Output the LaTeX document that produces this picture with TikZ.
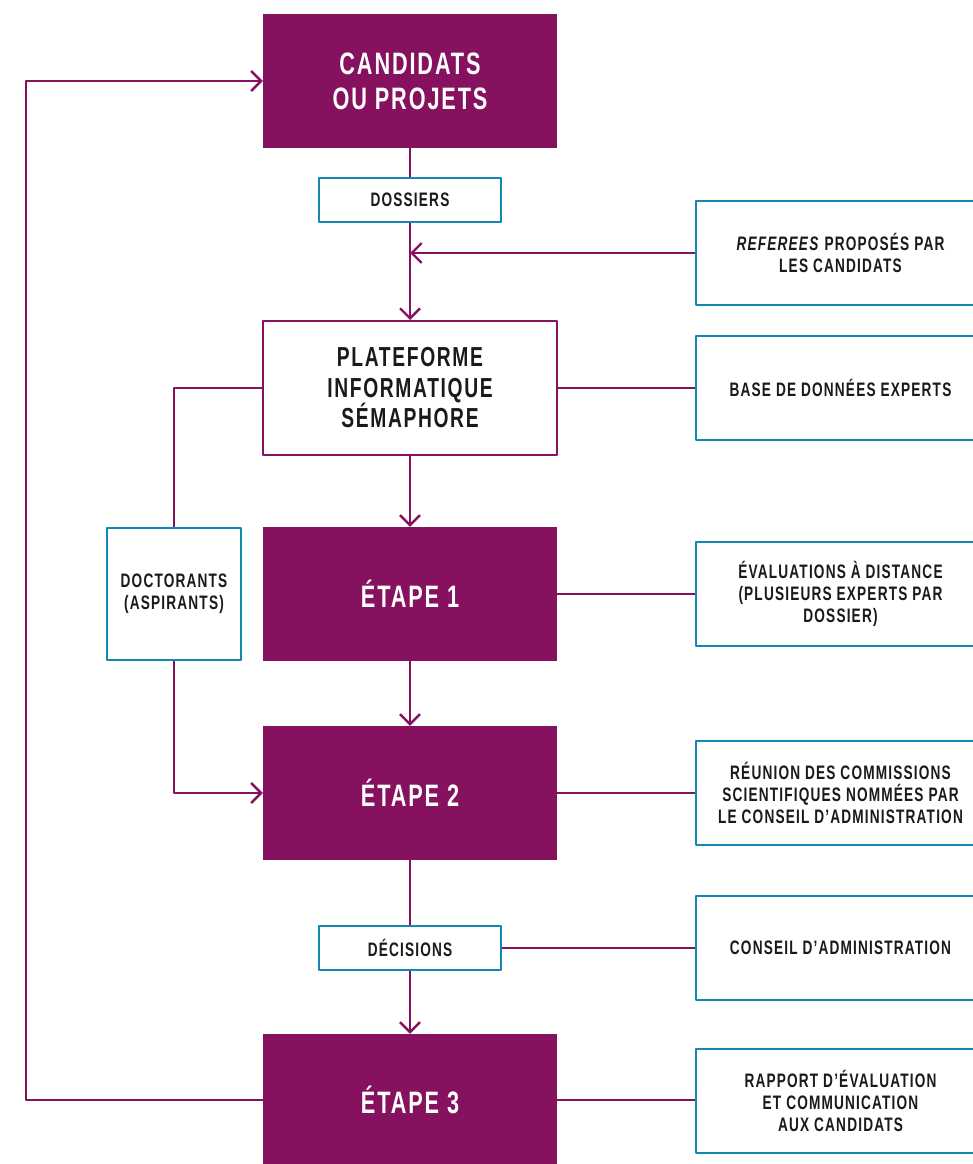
\documentclass[tikz,border=0pt]{standalone}
\usepackage{fontspec}
\setmainfont{Liberation Sans}[FakeStretch=0.7,LetterSpace=6]
\usetikzlibrary{arrows.meta,positioning}
\definecolor{prune}{RGB}{134,17,94}
\definecolor{bleu}{RGB}{20,136,180}
\definecolor{encre}{RGB}{26,26,26}

\begin{document}
\begin{tikzpicture}[x=1pt, y=-1pt, line join=round,
    etape/.style={fill=prune, text=white, minimum width=294pt, minimum height=134pt,
      inner sep=0pt, align=center, font=\fontsize{31}{35}\selectfont\bfseries},
    plateforme/.style={etape, fill=white, draw=prune, line width=2pt, text=encre,
      font=\fontsize{27.5}{30.5}\selectfont\bfseries},
    etiquette/.style={draw=bleu, line width=2.8pt, fill=white, text=encre,
      minimum width=182pt, minimum height=44pt, inner sep=0pt,
      font=\fontsize{19.5}{21.7}\selectfont\bfseries},
    source/.style={etiquette, minimum width=289pt, minimum height=104pt, align=center},
    lien/.style={draw=prune, line width=2.4pt},
    fleche/.style={lien, -{Straight Barb[length=10pt,width=20pt]}}]
  \useasboundingbox (0,0) rectangle (972,1164);

  % colonne centrale
  \node[etape] (cand) at (410,81) {CANDIDATS\\OU PROJETS};
  \node[etiquette] (doss) at (410,200) {DOSSIERS};
  \node[plateforme] (plat) at (410,388) {PLATEFORME\\INFORMATIQUE\\SÉMAPHORE};
  \node[etape] (etap1) at (410,594) {ÉTAPE 1};
  \node[etape] (etap2) at (410,793) {ÉTAPE 2};
  \node[etiquette] (deci) at (410,948) {DÉCISIONS};
  \node[etape, minimum height=132pt] (etap3) at (410,1100) {ÉTAPE 3};

  % colonne de droite
  \node[source] (refe) at (840.5,253) {\textit{REFEREES} PROPOSÉS PAR\\LES CANDIDATS};
  \node[source] (base) at (840.5,388) {BASE DE DONNÉES EXPERTS};
  \node[source] (eval) at (840.5,594) {ÉVALUATIONS À DISTANCE\\(PLUSIEURS EXPERTS PAR\\DOSSIER)};
  \node[source] (reun) at (840.5,793) {RÉUNION DES COMMISSIONS\\SCIENTIFIQUES NOMMÉES PAR\\LE CONSEIL D’ADMINISTRATION};
  \node[source] (cons) at (840.5,948) {CONSEIL D’ADMINISTRATION};
  \node[source] (rapp) at (840.5,1101) {RAPPORT D’ÉVALUATION\\ET COMMUNICATION\\AUX CANDIDATS};

  % colonne de gauche
  \node[etiquette, minimum width=134pt, minimum height=132pt, align=center] (doct) at (174,594) {DOCTORANTS\\(ASPIRANTS)};

  % liaisons verticales
  \draw[lien] (cand.south) -- (doss.north);
  \draw[fleche] (doss.south) -- (plat.north);
  \draw[fleche] (plat.south) -- (etap1.north);
  \draw[fleche] (etap1.south) -- (etap2.north);
  \draw[lien] (etap2.south) -- (deci.north);
  \draw[fleche] (deci.south) -- (etap3.north);

  % liaisons vers la droite
  \draw[fleche] (refe.west) -- (refe.west -| cand.south);
  \draw[lien] (plat.east) -- (base.west);
  \draw[lien] (etap1.east) -- (eval.west);
  \draw[lien] (etap2.east) -- (reun.west);
  \draw[lien] (deci.east) -- (cons.west);
  \draw[lien] (etap3.east) -- (etap3.east -| rapp.west);

  % doctorants et retour
  \draw[lien] (plat.west) -| (doct.north);
  \draw[fleche] (doct.south) |- (etap2.west);
  \draw[fleche] (etap3.west) -- ++(-237,0) |- (cand.west);
\end{tikzpicture}
\end{document}
